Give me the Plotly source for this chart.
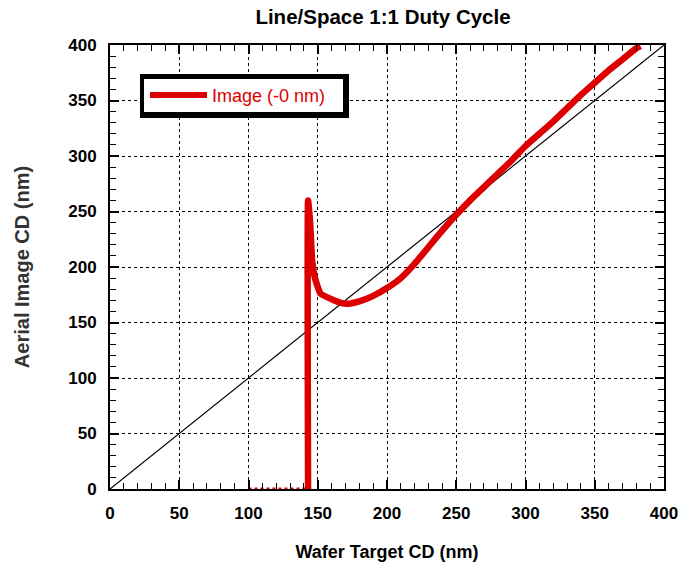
import plotly.graph_objects as go

# Aerial image CD versus wafer target CD (nm)
target_cd = [143, 143, 144.5, 146, 148, 152, 160, 166, 172, 180, 190, 200, 210,
             220, 230, 240, 250, 260, 270, 280, 290, 300, 310, 320, 330, 340,
             350, 360, 370, 380, 383]
image_cd = [0, 260, 240, 205, 190, 176, 171, 168, 167, 169, 174, 181, 190,
            203, 218, 233, 247, 260, 272, 284, 296, 309, 320, 331, 343, 355,
            366, 377, 387, 397, 399]

# region where no image is resolved
zero_cd_x = [100, 143]
zero_cd_y = [0, 0]

# 1:1 reference line
ref_x = [0, 400]
ref_y = [0, 400]

tick_vals = [0, 50, 100, 150, 200, 250, 300, 350, 400]
series_name = "Image (-0 nm)"

RED = "#dd0000"
FONT = "Liberation Sans, Arial, sans-serif"

# plot area in pixels, used to place the legend box in paper units
L, R, T, B = 110, 664, 45, 489


def px(xp):
    return (xp - L) / (R - L)


def py(yp):
    return (B - yp) / (B - T)


fig = go.Figure()
fig.add_trace(go.Scatter(x=ref_x, y=ref_y, mode="lines",
                         line=dict(color="black", width=1.2),
                         showlegend=False, hoverinfo="skip"))
fig.add_trace(go.Scatter(x=zero_cd_x, y=zero_cd_y, mode="lines",
                         line=dict(color=RED, width=3, dash="dot"),
                         showlegend=False))
fig.add_trace(go.Scatter(x=target_cd, y=image_cd, mode="lines",
                         name=series_name, showlegend=False,
                         line=dict(color=RED, width=6.5, shape="spline",
                                   smoothing=0.4)))

axis_common = dict(
    range=[0, 400], tickvals=tick_vals, ticks="inside", ticklen=9,
    tickwidth=1.5, tickcolor="black", showline=True, linecolor="black",
    linewidth=2, mirror="allticks", showgrid=True, gridcolor="black",
    gridwidth=1, griddash="dot", zeroline=False, automargin=False,
    tickfont=dict(family=FONT, size=17, color="black", weight="bold"),
    minor=dict(dtick=10, ticks="inside", ticklen=6, tickwidth=1.2,
               tickcolor="black", showgrid=False),
)

fig.update_xaxes(**axis_common, ticklabelstandoff=8,
                 title=dict(text="Wafer Target CD (nm)", standoff=23,
                            font=dict(family=FONT, size=18, color="black",
                                      weight="bold")))
fig.update_yaxes(**axis_common, ticklabelstandoff=8,
                 title=dict(text="Aerial Image CD (nm)", standoff=33,
                            font=dict(family=FONT, size=20, color="#333333",
                                      weight="bold")))

# legend box: black frame with drop shadow, white interior
fig.add_shape(type="rect", xref="paper", yref="paper",
              x0=px(140), x1=px(349), y0=py(118), y1=py(74),
              fillcolor="black", line=dict(width=0), layer="above")
fig.add_shape(type="rect", xref="paper", yref="paper",
              x0=px(144), x1=px(343), y0=py(112), y1=py(79),
              fillcolor="white", line=dict(width=0), layer="above")
fig.add_shape(type="line", xref="paper", yref="paper",
              x0=px(150), x1=px(207), y0=py(95), y1=py(95),
              line=dict(color=RED, width=6), layer="above")
fig.add_annotation(xref="paper", yref="paper", x=px(210), y=py(96),
                   xanchor="left", yanchor="middle", showarrow=False,
                   text=series_name,
                   font=dict(family=FONT, size=18, color=RED))

fig.update_layout(
    width=699, height=565,
    margin=dict(l=L, r=699 - R, t=T, b=565 - B),
    paper_bgcolor="white", plot_bgcolor="white",
    title=dict(text="Line/Space 1:1 Duty Cycle", x=383 / 699, xanchor="center",
               y=1 - 17 / 565, yanchor="middle",
               font=dict(family=FONT, size=20.5, color="black", weight="bold")),
)

fig.write_html("out.html")
